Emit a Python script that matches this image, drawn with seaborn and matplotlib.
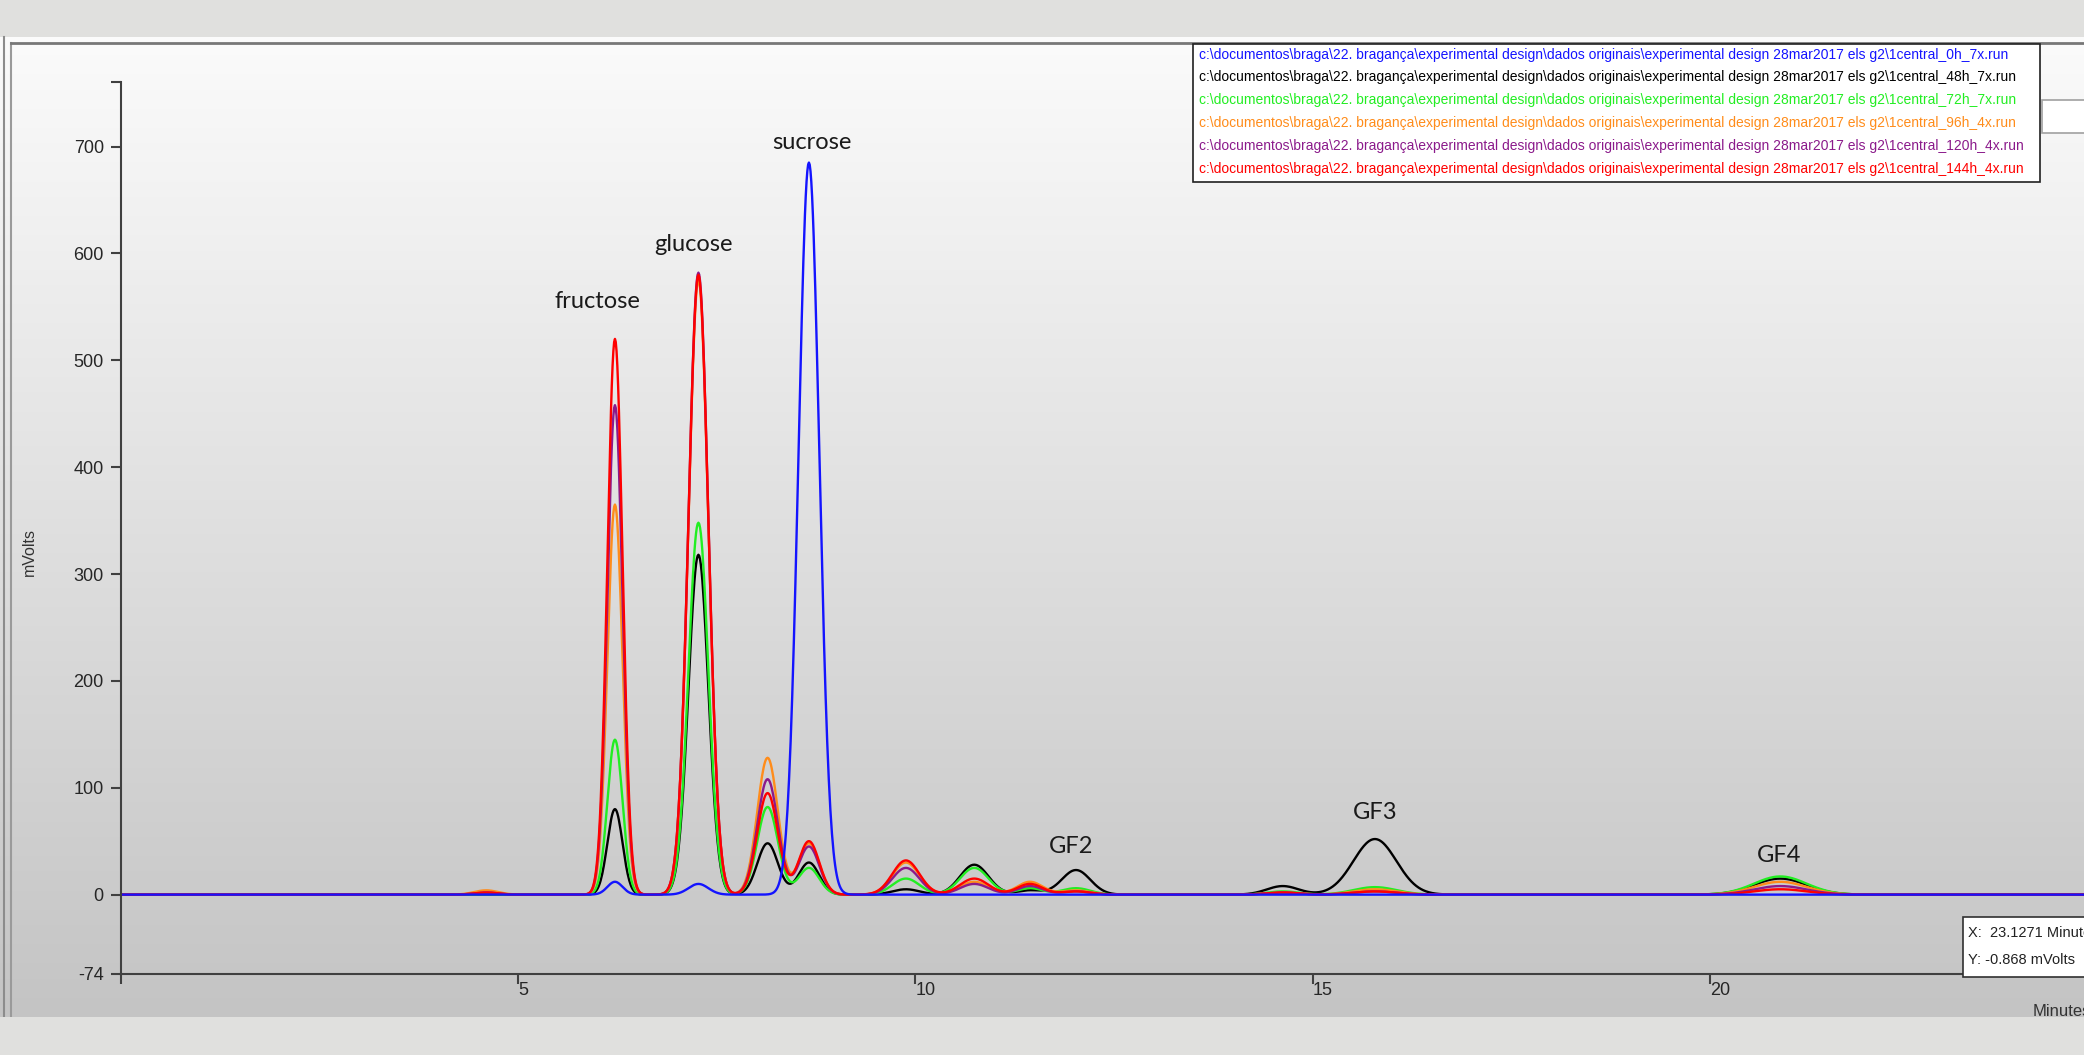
import numpy as np
import pandas as pd
import matplotlib
matplotlib.use("Agg")
import matplotlib.pyplot as plt
from matplotlib.patches import Rectangle
from matplotlib.lines import Line2D
import seaborn as sns

W, H = 2084, 1055

# ---------------- data ----------------
runs = ["0h_7x", "48h_7x", "72h_7x", "96h_4x", "120h_4x", "144h_4x"]
run_colors = ["#1414ff", "#000000", "#22ee22", "#ff8c1a", "#8b1a8b", "#ff0000"]

# retention times (min) and peak widths (sigma, min) of the detected peaks
peak_rt = [4.60, 6.22, 7.27, 8.14, 8.66, 9.88, 10.74, 11.44, 12.02, 14.62, 15.78, 20.88]
peak_sigma = [0.15, 0.095, 0.125, 0.13, 0.13, 0.17, 0.18, 0.16, 0.18, 0.20, 0.27, 0.33]

# peak heights (mV) for every run
h_0h = [0, 12, 10, 0, 685, 0, 0, 0, 0, 0, 0, 0]
h_48h = [0, 80, 318, 48, 30, 5, 28, 4, 23, 8, 52, 15]
h_72h = [0, 145, 348, 82, 25, 15, 25, 6, 6, 3, 7, 17]
h_96h = [4, 365, 575, 128, 48, 30, 12, 12, 4, 2, 5, 12]
h_120h = [2, 458, 582, 108, 45, 25, 10, 8, 3, 2, 3, 8]
h_144h = [2, 520, 580, 95, 50, 32, 15, 10, 3, 2, 3, 5]
heights = {"0h_7x": h_0h, "48h_7x": h_48h, "72h_7x": h_72h,
           "96h_4x": h_96h, "120h_4x": h_120h, "144h_4x": h_144h}

peak_names = ["fructose", "glucose", "sucrose", "GF2", "GF3", "GF4"]
name_x = [6.0, 7.21, 8.70, 11.96, 15.78, 20.86]
name_y = [555, 608, 704, 45, 77, 37]

yticks = [-74, 0, 100, 200, 300, 400, 500, 600, 700]
xticks = [5, 10, 15, 20]
x_range = (0, 24.7)
y_range = (-74, 760)

prefix = (r"c:\documentos\braga\22. bragança\experimental design\dados originais"
          r"\experimental design 28mar2017 els g2\1central_")

# ---------------- build traces from the peak table ----------------
t = np.arange(x_range[0], x_range[1] + 0.005, 0.01)
frames = []
for r in runs:
    sig = np.zeros_like(t)
    for rt, sd, hh in zip(peak_rt, peak_sigma, heights[r]):
        sig += hh * np.exp(-0.5 * ((t - rt) / sd) ** 2)
    frames.append(pd.DataFrame({"Minutes": t, "mVolts": sig, "run": r}))
df = pd.concat(frames, ignore_index=True)

# ---------------- figure ----------------
def fx(px):
    return px / W

def fy(py):
    return 1 - py / H

TICKFONT = ["Liberation Sans", "DejaVu Sans"]

fig = plt.figure(figsize=(W / 100, H / 100), dpi=100, facecolor="#e0e0de")

# gradient panel background
panel_top, panel_bot = 37, 1017
bg = fig.add_axes([0, fy(panel_bot), 1, (panel_bot - panel_top) / H], zorder=0)
grad = np.linspace(251, 196, 256)[:, None] / 255.0
bg.imshow(np.dstack([grad, grad, grad]), aspect="auto", extent=[0, 1, 0, 1])
bg.set_axis_off()

# panel frame lines
fig.add_artist(Line2D([fx(4), fx(4)], [fy(panel_top), fy(panel_bot)], color="#8c8c8c", lw=1.5, zorder=1))
fig.add_artist(Line2D([fx(11), fx(11)], [fy(43), fy(panel_bot)], color="#9a9a9a", lw=1.5, zorder=1))
fig.add_artist(Line2D([fx(11), 1], [fy(43), fy(43)], color="#777777", lw=2, zorder=1))

# main axes
x0_px, y0_px, ytop_px = 120.5, 973.7, 82.4
ax = fig.add_axes([fx(x0_px), fy(y0_px), 1 - fx(x0_px), (y0_px - ytop_px) / H], zorder=2)
ax.set_facecolor("none")

order = ["48h_7x", "72h_7x", "96h_4x", "120h_4x", "144h_4x", "0h_7x"]
pal = dict(zip(runs, run_colors))
sns.lineplot(data=df, x="Minutes", y="mVolts", hue="run", hue_order=order,
             palette=pal, estimator=None, sort=False, legend=False,
             linewidth=1.7, ax=ax)

ax.set_xlim(*x_range)
ax.set_ylim(*y_range)
for s in ["top", "right"]:
    ax.spines[s].set_visible(False)
for s in ["left", "bottom"]:
    ax.spines[s].set_color("#404040")
    ax.spines[s].set_linewidth(1.5)

ax.set_yticks(yticks + [y_range[1]])
ax.set_yticklabels([str(v) for v in yticks] + [""])
ax.set_xticks([0] + xticks)
ax.set_xticklabels([""] + [str(v) for v in xticks])
ax.tick_params(axis="y", direction="out", length=7, width=1.5, pad=5,
               colors="#404040", labelsize=13, labelcolor="#262626")
ax.tick_params(axis="x", direction="out", length=7, width=1.5, pad=-1,
               colors="#404040", labelsize=13, labelcolor="#262626")
for lab in ax.get_xticklabels() + ax.get_yticklabels():
    lab.set_family(TICKFONT)
for lab in ax.get_xticklabels():
    lab.set_ha("left")
ax.set_xlabel("")
ax.set_ylabel("")

# peak names
for nm, xx, yy in zip(peak_names, name_x, name_y):
    ax.text(xx, yy, nm, ha="center", va="center", fontsize=17,
            family=["Lato", "DejaVu Sans"], color="#1a1a1a")

# y axis label
fig.text(fx(29), fy(552), "mVolts", rotation=90, ha="center", va="center",
         fontsize=11.5, color="#333333", family=TICKFONT)

# "Minutes" label partly hidden below the panel (as in the screenshot)
fig.text(fx(2033), fy(1004), "Minutes", ha="left", va="top", fontsize=12,
         color="#333333", family=TICKFONT, zorder=5)
fig.patches.append(Rectangle((0, 0), 1, fy(panel_bot), transform=fig.transFigure,
                             facecolor="#e0e0de", edgecolor="none", zorder=10))

# legend box (file names, coloured text)
lx0, ly0, lx1, ly1 = 1193, 44, 2040, 182
fig.patches.append(Rectangle((fx(lx0), fy(ly1)), fx(lx1) - fx(lx0), fy(ly0) - fy(ly1),
                             transform=fig.transFigure, facecolor="white",
                             edgecolor="#202020", lw=1.2, zorder=6))
row_y = [55, 77.5, 100, 123, 146, 169]
for r, c, yy in zip(runs, run_colors, row_y):
    fig.text(fx(1199), fy(yy), prefix + r + ".run", ha="left", va="center",
             fontsize=10, color=c, zorder=7, family=TICKFONT)

# small box at the right of the legend
fig.patches.append(Rectangle((fx(2042), fy(133)), fx(60), 33 / H,
                             transform=fig.transFigure, facecolor="white",
                             edgecolor="#a0a0a0", lw=1.2, zorder=6))

# cursor read-out box
fig.patches.append(Rectangle((fx(1963), fy(977)), fx(140), 60 / H,
                             transform=fig.transFigure, facecolor="white",
                             edgecolor="#303030", lw=1.2, zorder=6))
fig.text(fx(1968), fy(933), "X:  23.1271 Minutes", ha="left", va="center",
         fontsize=10.5, color="#222222", zorder=7, family=TICKFONT)
fig.text(fx(1968), fy(960), "Y: -0.868 mVolts", ha="left", va="center",
         fontsize=10.5, color="#222222", zorder=7, family=TICKFONT)

fig.savefig("out.png", dpi=100, facecolor=fig.get_facecolor())
